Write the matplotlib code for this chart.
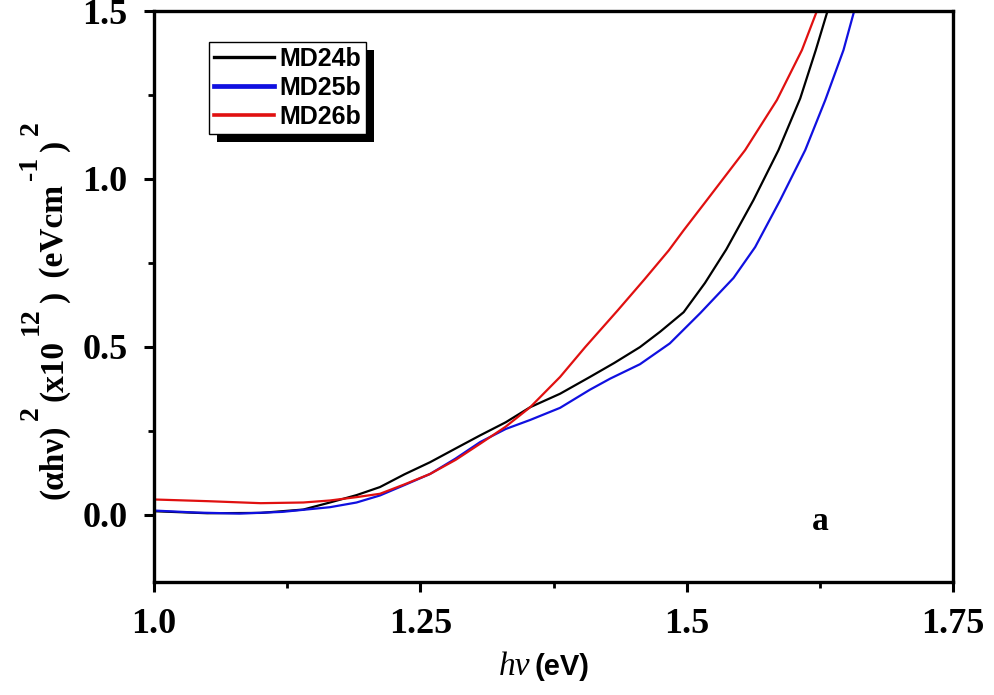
import matplotlib
matplotlib.use("Agg")
import matplotlib.pyplot as plt
from matplotlib.patches import Rectangle
from matplotlib.ticker import MultipleLocator

# données
x_md24 = [1.00, 1.05, 1.10, 1.14, 1.165, 1.19, 1.212, 1.235, 1.259, 1.283, 1.306, 1.33,
          1.353, 1.381, 1.409, 1.432, 1.456, 1.475, 1.497, 1.517, 1.537, 1.5625, 1.586,
          1.6064, 1.621, 1.632]
y_md24 = [0.010, 0.004, 0.005, 0.015, 0.036, 0.058, 0.082, 0.120, 0.156, 0.197, 0.236, 0.275,
          0.320, 0.360, 0.410, 0.452, 0.499, 0.545, 0.603, 0.690, 0.790, 0.937, 1.086,
          1.240, 1.384, 1.500]

x_md25 = [1.00, 1.04, 1.08, 1.12, 1.165, 1.19, 1.212, 1.235, 1.259, 1.283, 1.306, 1.33,
          1.353, 1.381, 1.409, 1.428, 1.456, 1.484, 1.5125, 1.5438, 1.5641, 1.5876, 1.6111,
          1.6299, 1.647, 1.657]
y_md25 = [0.012, 0.006, 0.003, 0.008, 0.022, 0.036, 0.057, 0.088, 0.121, 0.167, 0.216, 0.255,
          0.282, 0.318, 0.372, 0.405, 0.448, 0.510, 0.600, 0.705, 0.797, 0.937, 1.086,
          1.235, 1.384, 1.500]

x_md26 = [1.00, 1.05, 1.10, 1.14, 1.165, 1.19, 1.212, 1.235, 1.259, 1.283, 1.306, 1.33,
          1.353, 1.381, 1.4046, 1.435, 1.46, 1.483, 1.497, 1.5188, 1.5547, 1.5845,
          1.608, 1.622]
y_md26 = [0.045, 0.040, 0.034, 0.036, 0.042, 0.052, 0.062, 0.090, 0.121, 0.163, 0.211, 0.262,
          0.320, 0.410, 0.499, 0.608, 0.700, 0.787, 0.847, 0.937, 1.086, 1.235,
          1.384, 1.500]

labels = ["MD24b", "MD25b", "MD26b"]
colors = ["black", "#1010e0", "#e01010"]

xticks = [1.0, 1.25, 1.5, 1.75]
xtick_labels = ["1.0", "1.25", "1.5", "1.75"]
yticks = [0.0, 0.5, 1.0, 1.5]
ytick_labels = ["0.0", "0.5", "1.0", "1.5"]

# morceaux du titre de l'axe y (texte, exposant ?)
ylabel_parts = [("(αhν)", False), ("2", True), ("(x10", False), ("12", True),
                (")", False), (" (eVcm", False), ("-1", True), (")", False), ("2", True)]

W, H = 994, 695
fig = plt.figure(figsize=(W / 100, H / 100), dpi=100)
ax = fig.add_axes([0.155, 0.163, 0.804, 0.821])

for xs, ys, lab, c in [(x_md24, y_md24, labels[0], colors[0]),
                       (x_md25, y_md25, labels[1], colors[1]),
                       (x_md26, y_md26, labels[2], colors[2])]:
    ax.plot(xs, ys, color=c, lw=1.6, label=lab)

ax.set_xlim(1.0, 1.75)
ax.set_ylim(-0.2, 1.5)

ax.set_xticks(xticks)
ax.set_xticklabels(xtick_labels)
ax.set_yticks(yticks)
ax.set_yticklabels(ytick_labels)
ax.xaxis.set_minor_locator(MultipleLocator(0.125))
ax.yaxis.set_minor_locator(MultipleLocator(0.25))

for sp in ax.spines.values():
    sp.set_linewidth(2.4)
ax.tick_params(which="major", direction="out", length=7, width=2.2, pad=12,
               top=False, right=False)
ax.tick_params(which="minor", direction="out", length=4, width=2.0,
               top=False, right=False)
for t in ax.get_xticklabels() + ax.get_yticklabels():
    t.set_fontfamily("Liberation Serif")
    t.set_fontweight("bold")
    t.set_fontsize(26)

# label axe x en deux morceaux
fig.text(530 / W, 1 - 667 / H, "hν", fontfamily="Liberation Serif", style="italic",
         fontsize=24, ha="right", va="center")
fig.text(534 / W, 1 - 667 / H, "(eV)", fontfamily="Liberation Sans", fontweight="bold",
         fontsize=21, ha="left", va="center")

ax.text(1.625, -0.02, "a", fontfamily="Liberation Serif", fontweight="bold",
        fontsize=24, ha="center", va="center")

leg = ax.legend(loc="upper left", bbox_to_anchor=(0.069, 0.946), borderaxespad=0,
                fancybox=False, framealpha=1, edgecolor="black", handlelength=2.4,
                handletextpad=0.2, labelspacing=0.2, borderpad=0.2,
                prop={"family": "Liberation Sans", "weight": "bold", "size": 18})
leg.get_frame().set_linewidth(1.0)
for line, lw in zip(leg.get_lines(), [2.4, 3.4, 2.6]):
    line.set_linewidth(lw)

fig.canvas.draw()
renderer = fig.canvas.get_renderer()

# titre axe y : exposants en taille presque normale, comme l'original
y_disp = H - 499
for txt, sup in ylabel_parts:
    xc = 31 if sup else 54
    t = fig.text(xc / W, y_disp / H, txt, rotation=90, ha="center", va="bottom",
                 fontfamily="Liberation Serif", fontweight="bold",
                 fontsize=20 if sup else 24)
    y_disp = t.get_window_extent(renderer).y1 + 5

# ombre noire sous la légende
bb = leg.get_window_extent().transformed(fig.transFigure.inverted())
dx, dy = 8 / W, -8 / H
ax.add_patch(Rectangle((bb.x0 + dx, bb.y0 + dy), bb.width, bb.height,
                       transform=fig.transFigure, facecolor="black",
                       edgecolor="none", zorder=4.9, clip_on=False))

fig.savefig("out.png", dpi=100, facecolor="white")
